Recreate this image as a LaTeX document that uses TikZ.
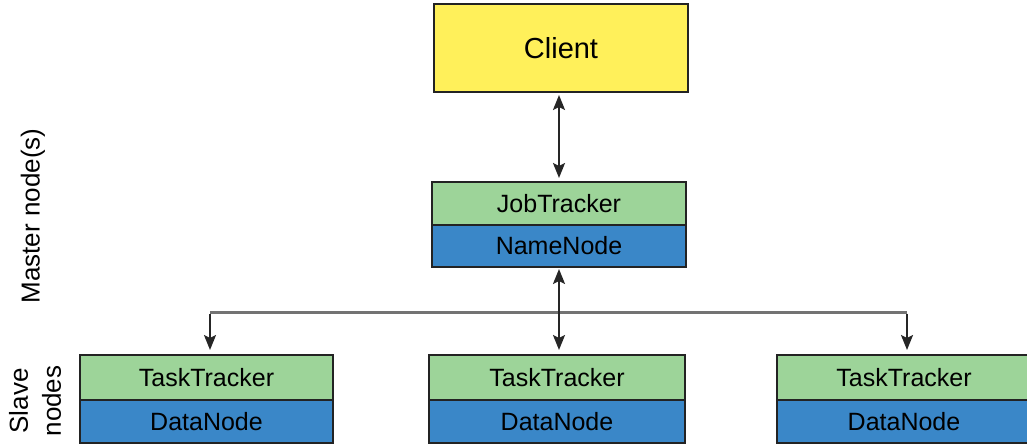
\documentclass[tikz,border=0pt]{standalone}
\usepackage{fontspec}
\setmainfont{Liberation Sans}
\usetikzlibrary{arrows.meta}
\definecolor{cyellow}{RGB}{255,240,90}
\definecolor{cgreen}{RGB}{157,212,153}
\definecolor{cblue}{RGB}{58,135,200}
\definecolor{cborder}{RGB}{35,35,35}
\tikzset{
  box/.style={draw=cborder, line width=2pt, inner sep=0pt, anchor=center},
  clientbox/.style={box, fill=cyellow, minimum width=254pt, minimum height=88pt, font=\fontsize{29}{34}\selectfont},
  topbox/.style={box, fill=cgreen, minimum width=254pt, font=\fontsize{25}{30}\selectfont},
  botbox/.style={box, fill=cblue, minimum width=254pt, font=\fontsize{25}{30}\selectfont},
  tip/.tip={Stealth[length=15pt,width=12pt,inset=3pt]},
  arr/.style={line width=2.2pt, black!85, -tip},
  darr/.style={line width=2.2pt, black!85, tip-tip},
  busline/.style={line width=3pt, black!55},
  sidelabel/.style={rotate=90, font=\fontsize{26}{33}\selectfont, align=center, inner sep=0pt}
}
\begin{document}
\begin{tikzpicture}[x=1pt,y=-1pt]
\useasboundingbox (0,0) rectangle (1027,446);
% client
\node[clientbox] (client) at (561,48) {Client};
% master
\node[topbox, minimum height=43pt] (jt) at (559,203.5) {JobTracker};
\node[botbox, minimum height=42pt] (nn) at (559,246) {NameNode};
% slaves
\node[topbox, minimum width=253pt, minimum height=45pt] (tt1) at (206.5,377.5) {TaskTracker};
\node[botbox, minimum width=253pt, minimum height=43pt] (dn1) at (206.5,421.5) {DataNode};
\node[topbox, minimum width=256pt, minimum height=45pt] (tt2) at (557,377.5) {TaskTracker};
\node[botbox, minimum width=256pt, minimum height=43pt] (dn2) at (557,421.5) {DataNode};
\node[topbox, minimum height=45pt] (tt3) at (904,377.5) {TaskTracker};
\node[botbox, minimum height=43pt] (dn3) at (904,421.5) {DataNode};
% side labels
\node[sidelabel] (master) at (33,216) {Master node(s)};
\node[sidelabel] (slave) at (35,401) {Slave\\nodes};
% connectors
\coordinate (bus) at (559,312);
\coordinate (busl) at (210,312);
\coordinate (busr) at (907,312);
\draw[darr, shorten <=2pt, shorten >=3pt] (jt.north |- client.south) -- (jt.north);
\draw[busline] (busl) -- (busr);
\draw[darr, shorten <=1pt, shorten >=4pt] (nn.south) -- (nn.south |- tt2.north);
\draw[arr, shorten >=4pt] ([yshift=-1.5pt]busl) -- (busl |- tt1.north);
\draw[arr, shorten >=4pt] ([yshift=-1.5pt]busr) -- (busr |- tt3.north);
\end{tikzpicture}
\end{document}
